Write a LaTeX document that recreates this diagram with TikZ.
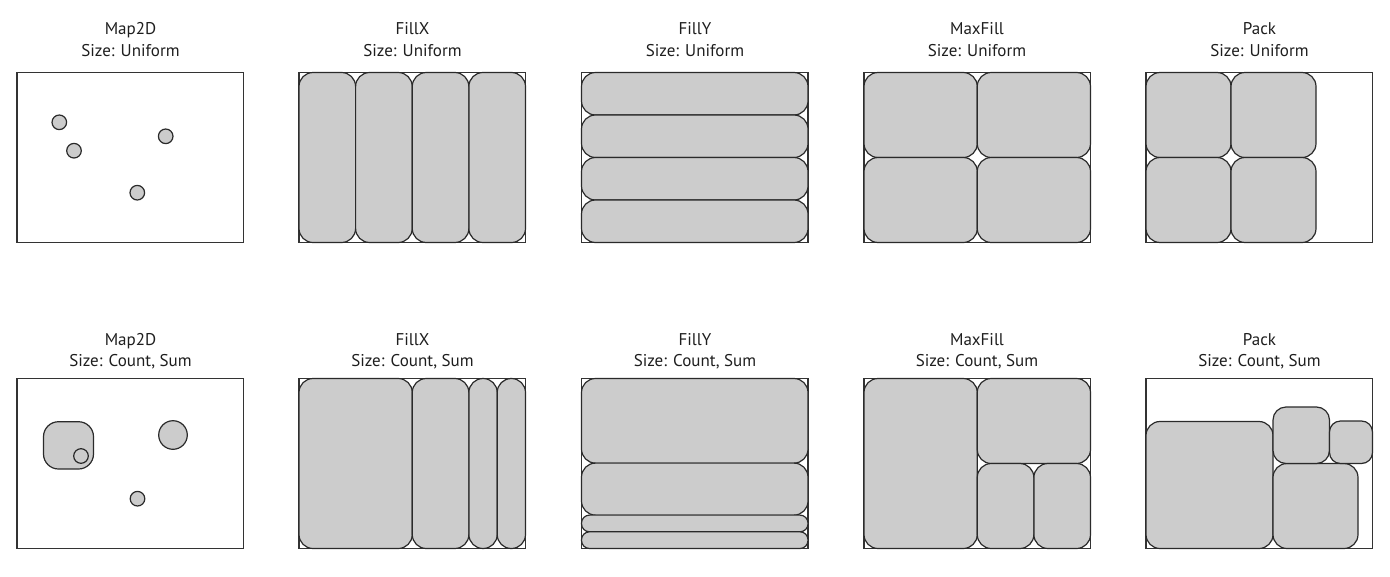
\documentclass[tikz,border=0pt]{standalone}
\usepackage{fontspec}
\setmainfont{PT Sans}
\definecolor{cellfill}{HTML}{CCCCCC}
\definecolor{edge}{HTML}{2A2A2A}
\definecolor{framec}{HTML}{333333}
\definecolor{txt}{HTML}{1E1E1E}
\tikzset{
  panel/.style={draw=framec, line width=1.2pt, fill=white},
  cellbox/.style={draw=edge, line width=1.2pt, fill=cellfill},
  ttl/.style={anchor=base, text=txt, inner sep=0pt, font=\fontsize{17}{20}\selectfont}
}
% rounded cell: x y w h r  (relative to current panel origin)
\newcommand\rc[5]{\draw[cellbox, rounded corners=#5pt] (#1,#2) rectangle ++(#3,#4);}
\begin{document}
\begin{tikzpicture}[x=1pt,y=-1pt]
\useasboundingbox (0,0) rectangle (1390,576);
% ---------------- titles ----------------
\node[ttl] (t1a) at (130.5,34.5) {Map2D};
\node[ttl] (t1b) at (130.5,56) {Size: Uniform};
\node[ttl] (t2a) at (412.5,34.5) {FillX};
\node[ttl] (t2b) at (412.5,56) {Size: Uniform};
\node[ttl] (t3a) at (695,34.5) {FillY};
\node[ttl] (t3b) at (695,56) {Size: Uniform};
\node[ttl] (t4a) at (977,34.5) {MaxFill};
\node[ttl] (t4b) at (977,56) {Size: Uniform};
\node[ttl] (t5a) at (1259.5,34.5) {Pack};
\node[ttl] (t5b) at (1259.5,56) {Size: Uniform};
\node[ttl] (b1a) at (130.5,345.5) {Map2D};
\node[ttl] (b1b) at (130.5,366) {Size: Count, Sum};
\node[ttl] (b2a) at (412.5,345.5) {FillX};
\node[ttl] (b2b) at (412.5,366) {Size: Count, Sum};
\node[ttl] (b3a) at (695,345.5) {FillY};
\node[ttl] (b3b) at (695,366) {Size: Count, Sum};
\node[ttl] (b4a) at (977,345.5) {MaxFill};
\node[ttl] (b4b) at (977,366) {Size: Count, Sum};
\node[ttl] (b5a) at (1259.5,345.5) {Pack};
\node[ttl] (b5b) at (1259.5,366) {Size: Count, Sum};
% ---------------- top row ----------------
% Map2D
\begin{scope}[shift={(17,72.5)}]
\draw[panel] (0,0) rectangle (226.5,170);
\end{scope}
\draw[cellbox] (59.3,122.3) circle (7.3pt);
\draw[cellbox] (74,150.7) circle (7.3pt);
\draw[cellbox] (165.7,136.3) circle (7.3pt);
\draw[cellbox] (137.3,192.7) circle (7.3pt);
% FillX
\begin{scope}[shift={(299,72.5)}]
\draw[panel] (0,0) rectangle (226.5,170);
\rc{0}{0}{56.6}{170}{14}
\rc{56.6}{0}{56.6}{170}{14}
\rc{113.25}{0}{56.6}{170}{14}
\rc{169.9}{0}{56.6}{170}{14}
\end{scope}
% FillY
\begin{scope}[shift={(581.5,72.5)}]
\draw[panel] (0,0) rectangle (226.5,170);
\rc{0}{0}{226.5}{42.5}{14}
\rc{0}{42.5}{226.5}{42.5}{14}
\rc{0}{85}{226.5}{42.5}{14}
\rc{0}{127.5}{226.5}{42.5}{14}
\end{scope}
% MaxFill
\begin{scope}[shift={(864,72.5)}]
\draw[panel] (0,0) rectangle (226.5,170);
\rc{0}{0}{113.25}{85}{14}
\rc{113.25}{0}{113.25}{85}{14}
\rc{0}{85}{113.25}{85}{14}
\rc{113.25}{85}{113.25}{85}{14}
\end{scope}
% Pack
\begin{scope}[shift={(1146,72.5)}]
\draw[panel] (0,0) rectangle (226.5,170);
\rc{0}{0}{85}{85}{14}
\rc{85}{0}{85}{85}{14}
\rc{0}{85}{85}{85}{14}
\rc{85}{85}{85}{85}{14}
\end{scope}
% ---------------- bottom row ----------------
% Map2D
\begin{scope}[shift={(17,378.5)}]
\draw[panel] (0,0) rectangle (226.5,170);
\end{scope}
\draw[cellbox, rounded corners=15pt] (43.5,421.7) rectangle (93.5,469);
\draw[cellbox] (81,456) circle (7.3pt);
\draw[cellbox] (173,435) circle (14.3pt);
\draw[cellbox] (137.5,498.7) circle (7.3pt);
% FillX
\begin{scope}[shift={(299,378.5)}]
\draw[panel] (0,0) rectangle (226.5,170);
\rc{0}{0}{113.25}{170}{14}
\rc{113.25}{0}{56.6}{170}{14}
\rc{169.9}{0}{28.3}{170}{14}
\rc{198.2}{0}{28.3}{170}{14}
\end{scope}
% FillY
\begin{scope}[shift={(581.5,378.5)}]
\draw[panel] (0,0) rectangle (226.5,170);
\rc{0}{0}{226.5}{84.6}{14}
\rc{0}{84.6}{226.5}{52}{14}
\rc{0}{136.6}{226.5}{16.7}{8}
\rc{0}{153.3}{226.5}{16.7}{8}
\end{scope}
% MaxFill
\begin{scope}[shift={(864,378.5)}]
\draw[panel] (0,0) rectangle (226.5,170);
\rc{0}{0}{113.25}{170}{14}
\rc{113.25}{0}{113.25}{85}{14}
\rc{113.25}{85}{56.6}{85}{14}
\rc{169.9}{85}{56.6}{85}{14}
\end{scope}
% Pack
\begin{scope}[shift={(1146,378.5)}]
\draw[panel] (0,0) rectangle (226.5,170);
\rc{0}{43}{127}{127}{14}
\rc{127}{85}{85}{85}{14}
\rc{127}{28.5}{56.5}{56.5}{13}
\rc{183.5}{42.5}{43}{42.5}{11}
\end{scope}
\end{tikzpicture}
\end{document}
